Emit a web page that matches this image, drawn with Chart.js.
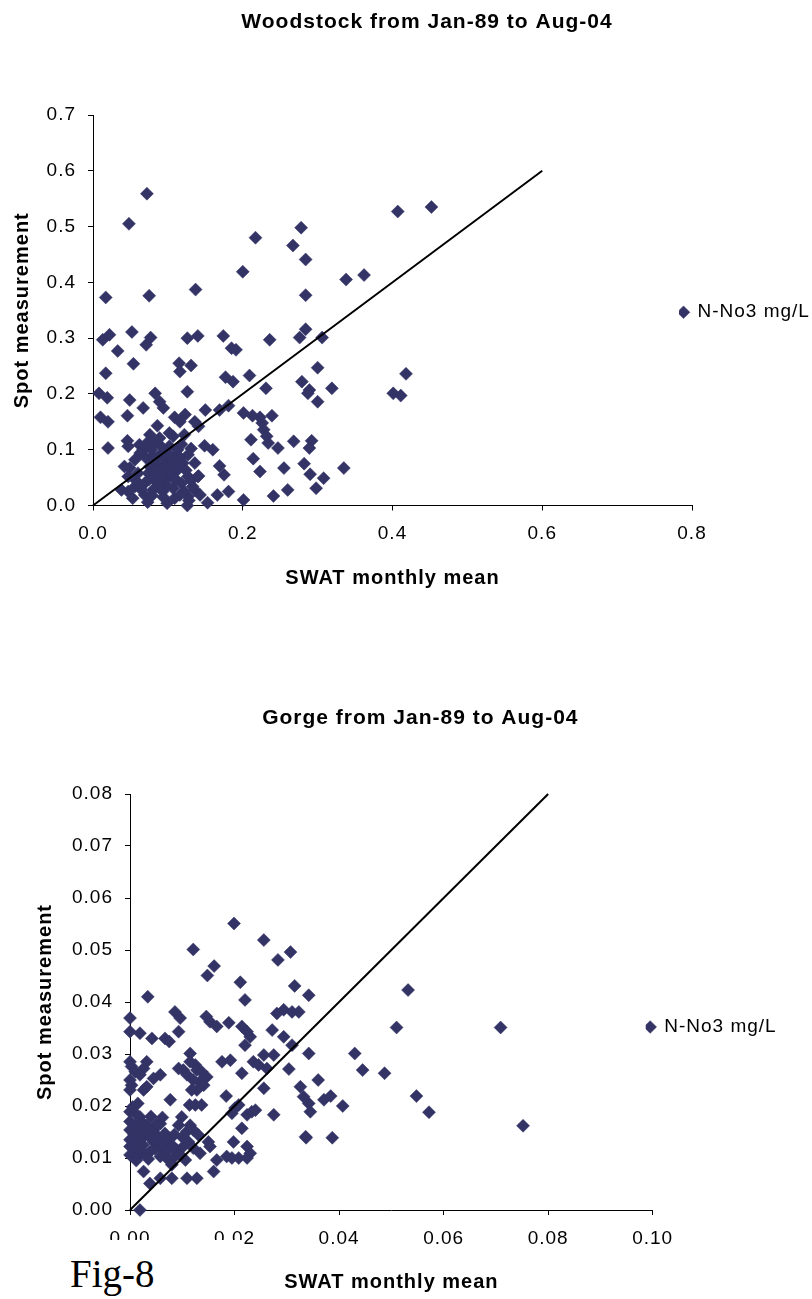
<!DOCTYPE html>
<html>
<head>
<meta charset="utf-8">
<script src="https://cdn.jsdelivr.net/npm/chart.js@4.4.1/dist/chart.umd.min.js"></script>
<style>
  body { margin: 0; background: #fff; width: 812px; height: 1299px; overflow: hidden; position: relative; }
  canvas { position: absolute; left: 0; }
  #fig { position: absolute; left: 60px; top: 1240px; width: 183px; height: 59px; box-sizing: border-box;
         padding: 18px 0 0 10px; background: #fff; font: 39px/32px 'Liberation Serif', 'Times New Roman', serif; color: #000; }
</style>
</head>
<body>
<canvas id="woodstock" width="812" height="600" style="top:0"></canvas>
<canvas id="gorge" width="812" height="619" style="top:680px"></canvas>
<div id="fig">Fig-8</div>
<script>
// Woodstock: SWAT monthly mean (x) vs spot measurement (y)
const woodX = [0.072, 0.048, 0.217, 0.200, 0.017, 0.075, 0.137, 0.013, 0.022, 0.052,
  0.077, 0.071, 0.126, 0.140, 0.174, 0.185, 0.191, 0.236, 0.033, 0.452,
  0.407, 0.278, 0.267, 0.284, 0.338, 0.362, 0.284, 0.276, 0.284, 0.306,
  0.300, 0.418, 0.401, 0.411, 0.279, 0.289, 0.287, 0.319, 0.300, 0.231,
  0.239, 0.226, 0.228, 0.232, 0.234, 0.247, 0.268, 0.292, 0.289, 0.223,
  0.255, 0.282, 0.290, 0.308, 0.335, 0.260, 0.298, 0.241, 0.054, 0.115,
  0.116, 0.131, 0.017, 0.177, 0.187, 0.209, 0.126, 0.008, 0.019, 0.049,
  0.083, 0.089, 0.094, 0.067, 0.150, 0.169, 0.181, 0.201, 0.223, 0.010,
  0.020, 0.046, 0.086, 0.109, 0.123, 0.116, 0.136, 0.141, 0.020, 0.046,
  0.047, 0.149, 0.160, 0.169, 0.175, 0.214, 0.201, 0.153, 0.126, 0.099,
  0.073, 0.166, 0.181, 0.141, 0.136, 0.143, 0.127, 0.076, 0.082, 0.089,
  0.067, 0.071, 0.056, 0.049, 0.047, 0.060, 0.076, 0.087, 0.096, 0.102,
  0.109, 0.100, 0.089, 0.082, 0.069, 0.056, 0.047, 0.053, 0.096, 0.105,
  0.113, 0.120, 0.127, 0.136, 0.127, 0.118, 0.107, 0.093, 0.080, 0.069,
  0.122, 0.133, 0.140, 0.109, 0.080, 0.062, 0.098, 0.113, 0.038, 0.042,
  0.102, 0.107, 0.122, 0.213, 0.211, 0.063, 0.074, 0.085, 0.092, 0.104,
  0.115, 0.117, 0.124, 0.131, 0.111, 0.099, 0.087, 0.075, 0.064, 0.079,
  0.094, 0.116, 0.128, 0.101, 0.091, 0.078, 0.118, 0.131, 0.072, 0.058,
  0.107, 0.084, 0.095];
const woodY = [0.559, 0.505, 0.480, 0.419, 0.373, 0.376, 0.387, 0.297, 0.306, 0.311,
  0.301, 0.288, 0.300, 0.304, 0.304, 0.282, 0.279, 0.297, 0.277, 0.535,
  0.527, 0.498, 0.466, 0.441, 0.405, 0.413, 0.377, 0.301, 0.316, 0.301,
  0.247, 0.236, 0.201, 0.197, 0.222, 0.207, 0.201, 0.210, 0.186, 0.210,
  0.161, 0.148, 0.136, 0.124, 0.112, 0.103, 0.115, 0.116, 0.103, 0.061,
  0.067, 0.075, 0.056, 0.049, 0.067, 0.028, 0.031, 0.017, 0.254, 0.255,
  0.240, 0.251, 0.237, 0.230, 0.222, 0.233, 0.204, 0.201, 0.193, 0.189,
  0.201, 0.186, 0.175, 0.175, 0.171, 0.171, 0.179, 0.166, 0.158, 0.158,
  0.150, 0.161, 0.143, 0.158, 0.163, 0.150, 0.150, 0.142, 0.103, 0.116,
  0.106, 0.107, 0.100, 0.071, 0.055, 0.084, 0.010, 0.005, 0.000, 0.004,
  0.006, 0.019, 0.025, 0.053, 0.028, 0.019, 0.016, 0.127, 0.112, 0.121,
  0.100, 0.085, 0.082, 0.067, 0.052, 0.058, 0.070, 0.088, 0.097, 0.106,
  0.088, 0.070, 0.064, 0.046, 0.040, 0.034, 0.025, 0.013, 0.046, 0.052,
  0.064, 0.076, 0.091, 0.076, 0.052, 0.040, 0.031, 0.025, 0.028, 0.019,
  0.025, 0.034, 0.052, 0.013, 0.088, 0.109, 0.082, 0.100, 0.028, 0.070,
  0.130, 0.124, 0.127, 0.161, 0.118, 0.094, 0.058, 0.076, 0.055, 0.060,
  0.072, 0.085, 0.063, 0.045, 0.046, 0.036, 0.036, 0.047, 0.029, 0.018,
  0.015, 0.019, 0.009, 0.092, 0.106, 0.100, 0.110, 0.102, 0.112, 0.044,
  0.079, 0.064, 0.070];

// Gorge
const gorgeX = [0.0199, 0.0256, 0.0121, 0.0307, 0.0283, 0.0161, 0.0148, 0.0211, 0.0315, 0.0034,
  0.0220, 0.0342, 0.0000, 0.0086, 0.0096, 0.0146, 0.0153, 0.0166, 0.0189, 0.0214,
  0.0224, 0.0230, 0.0220, 0.0281, 0.0294, 0.0310, 0.0323, 0.0272, 0.0294, 0.0310,
  0.0000, 0.0019, 0.0042, 0.0067, 0.0075, 0.0093, 0.0115, 0.0176, 0.0192, 0.0214,
  0.0236, 0.0246, 0.0256, 0.0275, 0.0262, 0.0304, 0.0256, 0.0000, 0.0003, 0.0010,
  0.0032, 0.0026, 0.0019, 0.0045, 0.0058, 0.0000, 0.0003, 0.0000, 0.0026, 0.0032,
  0.0093, 0.0102, 0.0109, 0.0115, 0.0125, 0.0128, 0.0137, 0.0121, 0.0134, 0.0141,
  0.0147, 0.0128, 0.0118, 0.0077, 0.0114, 0.0125, 0.0137, 0.0184, 0.0201, 0.0208,
  0.0195, 0.0224, 0.0233, 0.0240, 0.0214, 0.0275, 0.0336, 0.0000, 0.0010, 0.0019,
  0.0000, 0.0010, 0.0022, 0.0000, 0.0013, 0.0000, 0.0013, 0.0026, 0.0000, 0.0010,
  0.0022, 0.0000, 0.0016, 0.0032, 0.0032, 0.0045, 0.0058, 0.0054, 0.0067, 0.0077,
  0.0045, 0.0058, 0.0074, 0.0090, 0.0038, 0.0058, 0.0070, 0.0086, 0.0096, 0.0099,
  0.0093, 0.0115, 0.0121, 0.0131, 0.0112, 0.0102, 0.0121, 0.0134, 0.0150, 0.0153,
  0.0198, 0.0224, 0.0230, 0.0166, 0.0185, 0.0195, 0.0208, 0.0224, 0.0026, 0.0038,
  0.0058, 0.0080, 0.0109, 0.0128, 0.0160, 0.0019, 0.0080, 0.0106, 0.0532, 0.0510,
  0.0709, 0.0342, 0.0430, 0.0445, 0.0487, 0.0360, 0.0326, 0.0332, 0.0342, 0.0345,
  0.0371, 0.0384, 0.0407, 0.0548, 0.0572, 0.0752, 0.0337, 0.0387, 0.0008, 0.0018,
  0.0030, 0.0040, 0.0048, 0.0065, 0.0070, 0.0082, 0.0025, 0.0012, 0.0035, 0.0050,
  0.0062, 0.0040, 0.0085, 0.0100, 0.0108, 0.0005, 0.0015];
const gorgeY = [0.0551, 0.0519, 0.0501, 0.0496, 0.0481, 0.0469, 0.0451, 0.0438, 0.0431, 0.0410,
  0.0404, 0.0413, 0.0369, 0.0381, 0.0369, 0.0372, 0.0362, 0.0353, 0.0360, 0.0353,
  0.0343, 0.0333, 0.0317, 0.0378, 0.0385, 0.0381, 0.0381, 0.0346, 0.0333, 0.0317,
  0.0343, 0.0340, 0.0330, 0.0330, 0.0324, 0.0343, 0.0301, 0.0285, 0.0288, 0.0263,
  0.0285, 0.0279, 0.0298, 0.0298, 0.0272, 0.0271, 0.0234, 0.0285, 0.0276, 0.0266,
  0.0285, 0.0272, 0.0260, 0.0253, 0.0260, 0.0250, 0.0240, 0.0231, 0.0231, 0.0237,
  0.0272, 0.0269, 0.0260, 0.0285, 0.0279, 0.0269, 0.0266, 0.0250, 0.0247, 0.0240,
  0.0256, 0.0231, 0.0231, 0.0212, 0.0202, 0.0202, 0.0202, 0.0219, 0.0196, 0.0202,
  0.0186, 0.0183, 0.0189, 0.0192, 0.0157, 0.0183, 0.0141, 0.0189, 0.0186, 0.0179,
  0.0170, 0.0163, 0.0170, 0.0154, 0.0151, 0.0135, 0.0131, 0.0141, 0.0122, 0.0115,
  0.0112, 0.0106, 0.0103, 0.0106, 0.0163, 0.0154, 0.0166, 0.0141, 0.0147, 0.0138,
  0.0131, 0.0122, 0.0119, 0.0115, 0.0112, 0.0103, 0.0100, 0.0103, 0.0106, 0.0179,
  0.0163, 0.0163, 0.0154, 0.0144, 0.0131, 0.0122, 0.0119, 0.0109, 0.0131, 0.0122,
  0.0131, 0.0122, 0.0109, 0.0096, 0.0103, 0.0100, 0.0100, 0.0100, 0.0074, 0.0051,
  0.0061, 0.0061, 0.0061, 0.0061, 0.0074, 0.0000, 0.0087, 0.0096, 0.0423, 0.0351,
  0.0351, 0.0301, 0.0301, 0.0269, 0.0263, 0.0250, 0.0237, 0.0218, 0.0205, 0.0189,
  0.0212, 0.0219, 0.0200, 0.0219, 0.0188, 0.0162, 0.0139, 0.0139, 0.0145, 0.0158,
  0.0148, 0.0138, 0.0118, 0.0128, 0.0112, 0.0123, 0.0125, 0.0095, 0.0098, 0.0165,
  0.0178, 0.0180, 0.0145, 0.0140, 0.0150, 0.0198, 0.0205];

// 1:1 reference lines
const woodLineX = [0, 0.6];
const woodLineY = [0, 0.6];
const gorgeLineX = [0, 0.08];
const gorgeLineY = [0, 0.08];

const woodXTicks = [0, 0.2, 0.4, 0.6, 0.8];
const woodYTicks = [0, 0.1, 0.2, 0.3, 0.4, 0.5, 0.6, 0.7];
const gorgeXTicks = [0, 0.02, 0.04, 0.06, 0.08, 0.1];
const gorgeYTicks = [0, 0.01, 0.02, 0.03, 0.04, 0.05, 0.06, 0.07, 0.08];

Chart.defaults.font.family = "'Liberation Sans', Arial, sans-serif";
Chart.defaults.color = '#000';

// shift title / legend after layout so they sit where the original has them
const nudge = {
  id: 'nudge',
  afterLayout(chart, args, opts) {
    const t = chart.titleBlock, l = chart.legend;
    if (t && opts.titleX) { t.left += opts.titleX; t.right += opts.titleX; }
    if (l && opts.legend) {
      l.left += opts.legend[0];
      l.right = chart.width;
      l.width = l.right - l.left;
      l.top += opts.legend[1];
      l.bottom += opts.legend[1];
    }
  },
  beforeDraw(chart) {
    // the original text is set slightly wide
    chart.ctx.letterSpacing = '1px';
  }
};

function axis(ticks, dec, title, titlePad, fit) {
  return {
    type: 'linear',
    min: ticks[0],
    max: ticks[ticks.length - 1],
    afterBuildTicks: s => { s.ticks = ticks.map(v => ({value: v})); },
    afterFit: fit,
    grid: { drawOnChartArea: false, drawTicks: true, tickLength: 5, color: '#000' },
    border: { display: true, color: '#000', width: 1 },
    ticks: { padding: 12, font: { size: 19 }, color: '#000', callback: v => v.toFixed(dec) },
    title: { display: true, text: title, font: { size: 20, weight: 'bold' }, color: '#000', padding: titlePad }
  };
}

function build(id, o) {
  const pts = o.x.map((v, i) => ({x: v, y: o.y[i]}));
  const diag = o.lx.map((v, i) => ({x: v, y: o.ly[i]}));
  return new Chart(document.getElementById(id), {
    type: 'scatter',
    data: {
      datasets: [
        { label: '1:1', data: diag, showLine: true, borderColor: '#000', borderWidth: 2, pointRadius: 0, clip: false },
        { label: 'N-No3 mg/L', data: pts, pointStyle: 'rectRot', pointRadius: 6.5,
          backgroundColor: '#333366', borderColor: '#333366', borderWidth: 0.5, clip: false }
      ]
    },
    options: {
      responsive: false,
      animation: false,
      events: [],
      layout: { padding: { left: 0, top: 0, right: o.padRight, bottom: o.padBottom } },
      scales: {
        x: axis(o.xTicks, o.xDec, 'SWAT monthly mean', { top: 0, bottom: 0 }, s => { s.height = 84.5; }),
        y: axis(o.yTicks, o.yDec, 'Spot measurement', { top: o.yTitlePad, bottom: 0 }, s => { s.width = o.yWidth; })
      },
      plugins: {
        title: { display: true, text: o.title, color: '#000', font: { size: 21, weight: 'bold' },
                 padding: { top: o.titleTop, bottom: o.titleBottom } },
        legend: {
          position: 'right', fullSize: false, maxWidth: 120,
          labels: {
            filter: item => item.datasetIndex === 1,
            usePointStyle: true, boxWidth: 9, boxHeight: 9, padding: 0, font: { size: 19 }, color: '#000'
          }
        },
        tooltip: { enabled: false },
        nudge: { titleX: o.titleX, legend: o.legendShift }
      }
    },
    plugins: [nudge]
  });
}

build('woodstock', {
  x: woodX, y: woodY, lx: woodLineX, ly: woodLineY,
  xTicks: woodXTicks, yTicks: woodYTicks, xDec: 1, yDec: 1,
  title: 'Woodstock from Jan-89 to Aug-04',
  titleTop: 9.4, titleBottom: 80.4, titleX: 21,
  padRight: 0, padBottom: 10, yWidth: 93, yTitlePad: 10,
  legendShift: [-13, 2]
});

build('gorge', {
  x: gorgeX, y: gorgeY, lx: gorgeLineX, ly: gorgeLineY,
  xTicks: gorgeXTicks, yTicks: gorgeYTicks, xDec: 2, yDec: 2,
  title: 'Gorge from Jan-89 to Aug-04',
  titleTop: 25.4, titleBottom: 63.4, titleX: 34,
  padRight: 39.3, padBottom: 4.5, yWidth: 130, yTitlePad: 33,
  legendShift: [-7, 25]
});
</script>
</body>
</html>
